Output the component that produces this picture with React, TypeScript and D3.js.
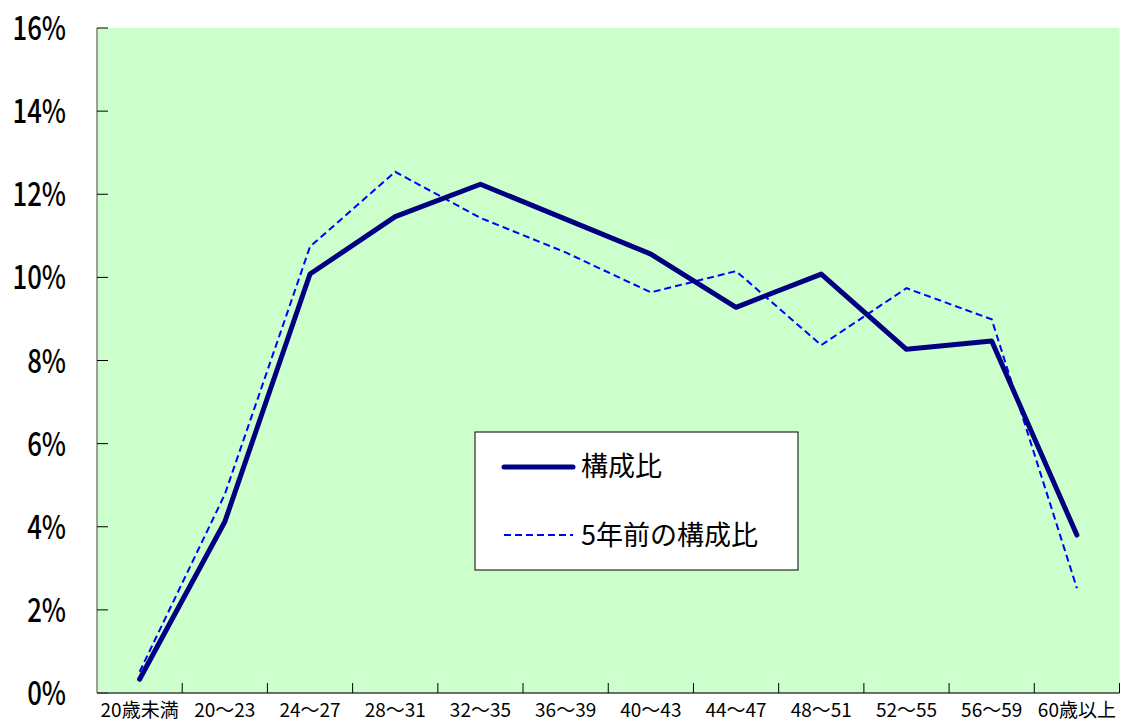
import React from "react";
import * as d3 from "d3";

// age bands
const categories = [
  "20歳未満", "20～23", "24～27", "28～31", "32～35", "36～39",
  "40～43", "44～47", "48～51", "52～55", "56～59", "60歳以上",
];
// 構成比 (%)
const current = [0.33, 4.12, 10.08, 11.46, 12.24, 11.4, 10.56, 9.28, 10.08, 8.27, 8.47, 3.8];
// 5年前の構成比 (%)
const fiveYearsAgo = [0.51, 4.78, 10.74, 12.54, 11.43, 10.6, 9.64, 10.15, 8.37, 9.74, 8.99, 2.52];
const yTicks = [0, 2, 4, 6, 8, 10, 12, 14, 16];

const W = 1129;
const H = 724;
const left = 97, right = 1119.5, top = 28, bottom = 693;
const font = "'Noto Sans CJK JP', sans-serif";

const App = () => {
  const x = d3.scaleBand<string>().domain(categories).range([left, right]).padding(0);
  const y = d3.scaleLinear().domain([0, 16]).range([bottom, top]);
  const cx = (i: number) => (x(categories[i]) as number) + x.bandwidth() / 2;

  const line = d3.line<number>().x((_, i) => cx(i)).y((d) => y(d));
  const bounds = categories.map((c) => x(c) as number).concat([right]);

  return (
    <svg width={W} height={H} style={{ position: "absolute", left: 0, top: 0 }}>
      <rect x={left} y={top} width={right - left} height={bottom - top} fill="#ccffcc" />

      {/* y axis */}
      <line x1={left} x2={left} y1={top} y2={bottom} stroke="#808080" strokeWidth={1.5} />
      {yTicks.map((t) => (
        <g key={t}>
          <line x1={left} x2={left + 11} y1={y(t)} y2={y(t)} stroke="#000" strokeWidth={1} />
          <text
            transform={`translate(66,${y(t) + 12}) scale(0.78,1)`}
            textAnchor="end"
            fontFamily={font}
            fontWeight={500}
            fontSize={33}
            fill="#000"
          >
            {t}%
          </text>
        </g>
      ))}

      {/* x axis */}
      <line x1={left} x2={right} y1={bottom} y2={bottom} stroke="#404040" strokeWidth={1.5} />
      {bounds.slice(1).map((b, i) => (
        <line key={i} x1={b} x2={b} y1={bottom} y2={bottom - 10} stroke="#000" strokeWidth={1} />
      ))}
      {categories.map((c, i) => (
        <text key={c} x={cx(i)} y={717} textAnchor="middle" fontFamily={font} fontSize={19} fill="#000">
          {c}
        </text>
      ))}

      {/* series */}
      <path d={line(fiveYearsAgo) ?? ""} fill="none" stroke="#0000ff" strokeWidth={2} strokeDasharray="7,4" />
      <path d={line(current) ?? ""} fill="none" stroke="#000080" strokeWidth={5} strokeLinecap="round" strokeLinejoin="round" />

      {/* legend */}
      <rect x={475} y={432} width={323} height={138} fill="#fff" stroke="#000" strokeWidth={1} />
      <line x1={504} x2={573} y1={467} y2={467} stroke="#000080" strokeWidth={5} strokeLinecap="round" />
      <text x={581} y={476} fontFamily={font} fontSize={27} fill="#000">構成比</text>
      <line x1={504} x2={573} y1={535} y2={535} stroke="#0000ff" strokeWidth={2} strokeDasharray="7,4" />
      <text x={581} y={545} fontFamily={font} fontSize={27} fill="#000">5年前の構成比</text>
    </svg>
  );
};

export default App;
